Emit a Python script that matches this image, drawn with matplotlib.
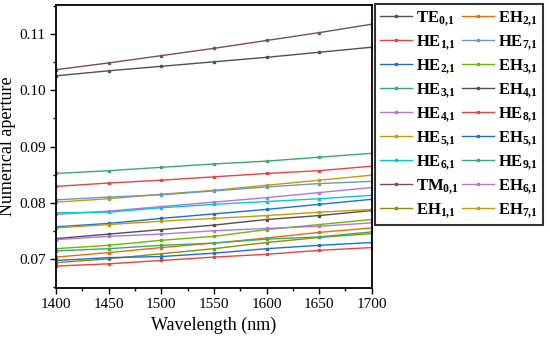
import matplotlib
matplotlib.use("Agg")
import matplotlib.pyplot as plt
from matplotlib.ticker import MultipleLocator

plt.rcParams['font.family'] = 'Liberation Serif'
plt.rcParams['mathtext.fontset'] = 'custom'
plt.rcParams['mathtext.rm'] = 'Liberation Serif'
plt.rcParams['mathtext.bf'] = 'Liberation Serif:bold'

# Longueurs d'onde (nm)
wavelength = [1400, 1450, 1500, 1550, 1600, 1650, 1700]

# Ouverture numérique par mode
TE01 = [0.1026, 0.1035, 0.1043, 0.1051, 0.1059, 0.1068, 0.1077]
HE11 = [0.0829, 0.0835, 0.0840, 0.0846, 0.0852, 0.0857, 0.0865]
HE21 = [0.0757, 0.0763, 0.0772, 0.0780, 0.0788, 0.0797, 0.0806]
HE31 = [0.0852, 0.0857, 0.0863, 0.0869, 0.0874, 0.0881, 0.0888]
HE41 = [0.0779, 0.0785, 0.0793, 0.0801, 0.0809, 0.0818, 0.0827]
HE51 = [0.0801, 0.0807, 0.0815, 0.0822, 0.0831, 0.0840, 0.0849]
HE61 = [0.0782, 0.0783, 0.0791, 0.0797, 0.0802, 0.0807, 0.0813]
TM01 = [0.1037, 0.1049, 0.1062, 0.1075, 0.1089, 0.1103, 0.1118]
EH11 = [0.0693, 0.0700, 0.0709, 0.0718, 0.0729, 0.0738, 0.0745]
EH21 = [0.0703, 0.0711, 0.0720, 0.0728, 0.0737, 0.0747, 0.0755]
HE71 = [0.0805, 0.0810, 0.0814, 0.0821, 0.0828, 0.0834, 0.0838]
EH31 = [0.0718, 0.0724, 0.0733, 0.0740, 0.0752, 0.0761, 0.0770]
EH41 = [0.0736, 0.0744, 0.0752, 0.0760, 0.0770, 0.0777, 0.0786]
HE81 = [0.0687, 0.0691, 0.0697, 0.0703, 0.0708, 0.0715, 0.0720]
EH51 = [0.0697, 0.0702, 0.0704, 0.0710, 0.0718, 0.0724, 0.0729]
HE91 = [0.0714, 0.0718, 0.0724, 0.0728, 0.0735, 0.0739, 0.0748]
EH61 = [0.0734, 0.0740, 0.0744, 0.0750, 0.0754, 0.0758, 0.0764]
EH71 = [0.0755, 0.0761, 0.0767, 0.0772, 0.0777, 0.0783, 0.0788]

labels = ['TE_{0{,}1}', 'HE_{1{,}1}', 'HE_{2{,}1}', 'HE_{3{,}1}', 'HE_{4{,}1}', 'HE_{5{,}1}',
          'HE_{6{,}1}', 'TM_{0{,}1}', 'EH_{1{,}1}', 'EH_{2{,}1}', 'HE_{7{,}1}', 'EH_{3{,}1}',
          'EH_{4{,}1}', 'HE_{8{,}1}', 'EH_{5{,}1}', 'HE_{9{,}1}', 'EH_{6{,}1}', 'EH_{7{,}1}']
series = [TE01, HE11, HE21, HE31, HE41, HE51, HE61, TM01, EH11, EH21, HE71, EH31,
          EH41, HE81, EH51, HE91, EH61, EH71]

# Palette "Colorful" d'Origin
couleurs = ['#515151', '#F14040', '#1A6FDF', '#37AD6B', '#B177DE', '#CC9900',
            '#00CBCC', '#7D4E4E', '#8E8E00', '#FB6501', '#6699CC', '#6FB802']

fig = plt.figure(figsize=(5.5, 3.42), dpi=100)
ax = fig.add_axes([0.102, 0.158, 0.574, 0.827])

for i, (lab, y) in enumerate(zip(labels, series)):
    ax.plot(wavelength, y, color=couleurs[i % len(couleurs)], lw=1.0,
            marker='s', markersize=2, label=r'$\mathbf{' + lab + '}$')

ax.set_xlim(1400, 1700)
ax.set_ylim(0.0648, 0.1152)
ax.xaxis.set_major_locator(MultipleLocator(50))
ax.xaxis.set_minor_locator(MultipleLocator(25))
ax.yaxis.set_major_locator(MultipleLocator(0.01))
ax.yaxis.set_minor_locator(MultipleLocator(0.005))
ax.yaxis.set_major_formatter(matplotlib.ticker.FormatStrFormatter('%.2f'))
ax.tick_params(which='major', direction='out', length=4, width=1, labelsize=11)
ax.tick_params(which='minor', direction='out', length=2, width=1)
for s in ax.spines.values():
    s.set_linewidth(1.3)

ax.set_xlabel('Wavelength (nm)', fontsize=13)
ax.set_ylabel('Numerical aperture', fontsize=13, labelpad=2)

leg = fig.legend(loc='upper left', bbox_to_anchor=(0.682, 0.988), ncol=2,
                 fontsize=12, frameon=True, fancybox=False, edgecolor='black',
                 handlelength=1.9, handletextpad=0.25, columnspacing=0.2,
                 labelspacing=0.3, borderpad=0.3, borderaxespad=0)
leg.get_frame().set_linewidth(1.5)

plt.savefig('out.png', dpi=100)
